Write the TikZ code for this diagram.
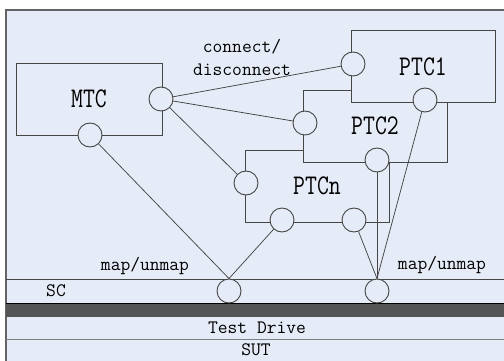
\documentclass[tikz,border=0pt]{standalone}
\usepackage{fontspec}
\usepackage{graphicx}
\definecolor{bg}{RGB}{230,236,247}
\definecolor{ln}{RGB}{70,70,70}
\definecolor{band}{RGB}{85,85,85}
\definecolor{frame}{RGB}{100,100,100}
\newcommand{\smalltxt}{\fontsize{19}{22}\selectfont\ttfamily}
\newcommand{\lbl}[1]{\scalebox{0.81}[1]{\fontsize{28.5}{30}\selectfont\ttfamily #1}}
\begin{document}
\begin{tikzpicture}[x=1pt,y=-1pt,
  box/.style={draw=ln,line width=0.9pt,fill=bg,minimum width=144pt,minimum height=72pt,inner sep=0pt},
  port/.style={circle,draw=ln,line width=0.9pt,fill=bg,minimum size=24pt,inner sep=0pt},
  conn/.style={draw=ln,line width=0.75pt},
  txt/.style={inner sep=0pt,font=\smalltxt,text=black}]
\useasboundingbox (0,0) rectangle (504,361);
\fill[white] (0,0) rectangle (504,361);
\fill[bg] (6,10) rectangle (504,361);
\draw[frame,line width=1.5pt] (6,361) -- (6,10) -- (504,10);
% bands
\draw[ln,line width=0.8pt] (6,279) -- (504,279);
\fill[band] (6,303) rectangle (504,317);
\draw[black,line width=1pt] (6,303) -- (504,303);
\draw[gray,line width=1pt] (6,339) -- (504,339);
% boxes
\node[box] (ptcn) at (317,186) {\lbl{PTCn}};
\node[box] (ptc2) at (375,126) {\lbl{PTC2}};
\node[box] (ptc1) at (423,66.5) {\lbl{PTC1}};
\node[box,minimum width=146pt] (mtc) at (89,99) {\lbl{MTC}};
% ports
\node[port] (m1) at (161,99) {};
\node[port] (m2) at (90,135) {};
\node[port] (p1a) at (353,64) {};
\node[port] (p1b) at (425,100) {};
\node[port] (p2a) at (305,123) {};
\node[port] (p2b) at (377,160) {};
\node[port] (pna) at (246,183) {};
\node[port] (pnb) at (282,220) {};
\node[port] (pnc) at (354,220) {};
\node[port] (s1) at (229,291) {};
\node[port] (s2) at (377,291) {};
% connectors
\draw[conn] (m1) -- (p1a);
\draw[conn] (m1) -- (p2a);
\draw[conn] (m1) -- (pna);
\draw[conn] (m2) -- (s1.north);
\draw[conn] (pnb) -- (s1.north);
\draw[conn] (p1b) -- (s2.north);
\draw[conn] (p2b) -- (s2.north);
\draw[conn] (pnc) -- (s2.north);
% texts
\node[txt] (t1) at (242,47) {connect/};
\node[txt] (t2) at (242,70) {disconnect};
\node[txt] (mu1) at (145,266) {map/unmap};
\node[txt] (mu2) at (442,265) {map/unmap};
\node[txt] (sc) at (56,291) {SC};
\node[txt] (td) at (257,328) {Test Drive};
\node[txt] (sut) at (256,350) {SUT};
\end{tikzpicture}
\end{document}
